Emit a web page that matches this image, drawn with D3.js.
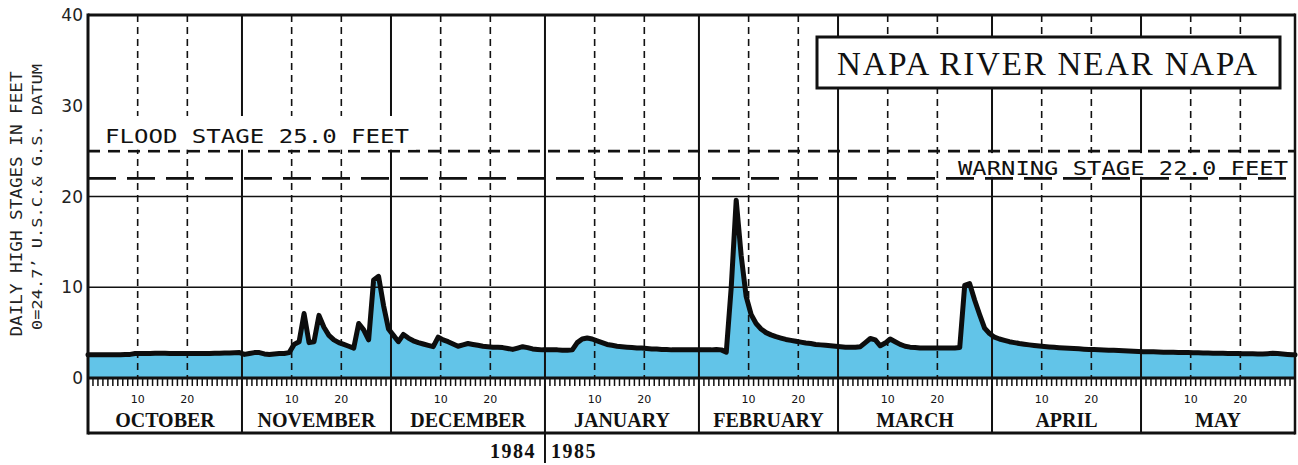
<!DOCTYPE html>
<html>
<head>
<meta charset="utf-8">
<script src="https://cdn.jsdelivr.net/npm/d3@7"></script>
<style>
  body { margin: 0; background: #fff; }
  svg { display: block; }
</style>
</head>
<body>
<svg id="chart" width="1298" height="465"></svg>
<script>
// Water year months shown on the chart
const monthNames = ["OCTOBER", "NOVEMBER", "DECEMBER", "JANUARY", "FEBRUARY", "MARCH", "APRIL", "MAY"];
const monthDays = [31, 30, 31, 31, 28, 31, 30, 31];

// Daily high stage (feet), one array per month
const stageOct = [2.55,2.55,2.55,2.55,2.55,2.55,2.55,2.6,2.6,2.7,2.7,2.7,2.7,2.72,2.72,2.72,2.7,2.7,2.7,2.7,2.7,2.7,2.7,2.7,2.7,2.72,2.72,2.75,2.75,2.78,2.8];
const stageNov = [2.6,2.7,2.8,2.8,2.65,2.6,2.65,2.7,2.7,2.8,3.7,4.0,7.1,3.9,4.0,6.9,5.6,4.7,4.2,3.9,3.7,3.5,3.3,6.0,5.3,4.2,10.8,11.2,8.0,5.4];
const stageDec = [4.7,4.0,4.8,4.4,4.1,3.9,3.75,3.6,3.45,4.5,4.2,4.0,3.75,3.5,3.65,3.8,3.7,3.6,3.5,3.45,3.4,3.38,3.35,3.25,3.15,3.3,3.45,3.35,3.2,3.15,3.1];
const stageJan = [3.1,3.1,3.1,3.05,3.05,3.1,3.9,4.3,4.4,4.3,4.1,3.9,3.7,3.6,3.5,3.45,3.4,3.35,3.3,3.3,3.25,3.2,3.2,3.15,3.15,3.1,3.1,3.1,3.1,3.1,3.1];
const stageFeb = [3.1,3.1,3.1,3.15,3.1,2.85,10.0,19.6,13.5,9.0,7.0,6.0,5.4,5.0,4.75,4.55,4.4,4.25,4.15,4.05,3.95,3.85,3.8,3.7,3.65,3.6,3.55,3.5];
const stageMar = [3.45,3.4,3.4,3.4,3.45,3.9,4.35,4.2,3.55,3.85,4.3,4.0,3.7,3.5,3.4,3.35,3.3,3.3,3.3,3.3,3.3,3.3,3.3,3.3,3.35,10.2,10.4,8.6,7.0,5.5,4.9];
const stageApr = [4.5,4.3,4.15,4.0,3.9,3.8,3.72,3.65,3.58,3.52,3.47,3.42,3.38,3.34,3.3,3.27,3.24,3.21,3.18,3.15,3.13,3.11,3.09,3.07,3.05,3.02,3.0,2.98,2.95,2.93];
const stageMay = [2.9,2.9,2.88,2.87,2.85,2.84,2.83,2.82,2.8,2.8,2.78,2.77,2.76,2.75,2.74,2.73,2.72,2.7,2.7,2.7,2.68,2.67,2.66,2.65,2.65,2.68,2.72,2.7,2.65,2.6,2.55];

const yTicks = [0, 10, 20, 30, 40];
const yGrid = [10, 20];
const dayMarks = [10, 20];
const floodStage = 25.0;
const warningStage = 22.0;
const floodLabel = "FLOOD STAGE 25.0 FEET";
const warningLabel = "WARNING STAGE 22.0 FEET";
const chartTitle = "NAPA RIVER NEAR NAPA";
const yTitle = "DAILY HIGH STAGES IN FEET";
const yDatum = "0=24.7\u2019 U.S.C.& G.S. DATUM";
const yearLabels = ["1984", "1985"];

const stages = [stageOct, stageNov, stageDec, stageJan, stageFeb, stageMar, stageApr, stageMay];

(function draw() {
  // layout
  const left = 88, right = 1295, plotTop = 15, base = 378, bandBottom = 433;
  const totalDays = d3.sum(monthDays);
  const monthStart = monthDays.map((d, i) => d3.sum(monthDays.slice(0, i)));

  const x = d3.scaleLinear().domain([0, totalDays]).range([left, right]);
  const y = d3.scaleLinear().domain([0, 40]).range([base, plotTop]);

  const svg = d3.select("#chart");
  const plotterFont = "DejaVu Sans Mono";

  // daily series, each value placed in the middle of its day
  const series = [];
  stages.forEach((arr, m) => arr.forEach((v, i) => series.push({ t: monthStart[m] + i + 0.5, v })));
  const pts = [{ t: 0, v: series[0].v }, ...series, { t: totalDays, v: series[series.length - 1].v }];

  // filled area under the stage line
  svg.append("path")
    .datum(pts)
    .attr("fill", "#62c4e8")
    .attr("d", d3.area().x(d => x(d.t)).y0(y(0)).y1(d => y(d.v)));

  const grid = svg.append("g").attr("stroke", "#111");

  // horizontal grid at 10 and 20 ft
  grid.selectAll("line.h").data(yGrid).join("line")
    .attr("x1", left).attr("x2", right)
    .attr("y1", d => y(d)).attr("y2", d => y(d))
    .attr("stroke-width", 1.6);

  // dashed verticals on the 10th and 20th of every month
  const dashDays = monthStart.flatMap(s => dayMarks.map(d => s + d));
  grid.append("g").selectAll("line").data(dashDays).join("line")
    .attr("x1", d => x(d)).attr("x2", d => x(d))
    .attr("y1", plotTop).attr("y2", base)
    .attr("stroke-width", 1.6)
    .attr("stroke-dasharray", "7,5");

  // solid month dividers run through the label band
  grid.append("g").selectAll("line").data(monthStart.slice(1)).join("line")
    .attr("x1", d => x(d)).attr("x2", d => x(d))
    .attr("y1", plotTop).attr("y2", bandBottom)
    .attr("stroke-width", 2);

  // flood and warning stage lines
  svg.append("line")
    .attr("x1", left).attr("x2", right)
    .attr("y1", y(floodStage)).attr("y2", y(floodStage))
    .attr("stroke", "#111").attr("stroke-width", 2.6)
    .attr("stroke-dasharray", "12,8");
  svg.append("line")
    .attr("x1", left).attr("x2", right)
    .attr("y1", y(warningStage)).attr("y2", y(warningStage))
    .attr("stroke", "#111").attr("stroke-width", 2.6)
    .attr("stroke-dasharray", "28,11");

  // stage label panels
  svg.append("rect").attr("x", 100).attr("y", 116).attr("width", 316).attr("height", y(floodStage) - 117.5)
    .attr("fill", "#fff");
  svg.append("text")
    .attr("x", 105).attr("y", 142.5)
    .attr("font-family", plotterFont).attr("font-size", 19)
    .attr("textLength", 304).attr("lengthAdjust", "spacingAndGlyphs")
    .attr("fill", "#111")
    .text(floodLabel);

  svg.append("rect").attr("x", 950).attr("y", y(floodStage) + 2).attr("width", 343)
    .attr("height", y(warningStage) - y(floodStage) - 3.5)
    .attr("fill", "#fff");
  svg.append("text")
    .attr("x", 958).attr("y", 175)
    .attr("font-family", plotterFont).attr("font-size", 19)
    .attr("textLength", 330).attr("lengthAdjust", "spacingAndGlyphs")
    .attr("fill", "#111")
    .text(warningLabel);

  // stage line
  svg.append("path")
    .datum(pts)
    .attr("fill", "none")
    .attr("stroke", "#0d0d0d")
    .attr("stroke-width", 5)
    .attr("stroke-linejoin", "round")
    .attr("stroke-linecap", "round")
    .attr("d", d3.line().x(d => x(d.t)).y(d => y(d.v)));

  // frame
  const frame = svg.append("g").attr("stroke", "#111").attr("fill", "none");
  frame.append("line").attr("x1", left).attr("x2", right).attr("y1", plotTop).attr("y2", plotTop).attr("stroke-width", 3);
  frame.append("line").attr("x1", left).attr("x2", right).attr("y1", base).attr("y2", base).attr("stroke-width", 3);
  frame.append("line").attr("x1", left).attr("x2", right).attr("y1", bandBottom).attr("y2", bandBottom).attr("stroke-width", 3);
  frame.append("line").attr("x1", left).attr("x2", left).attr("y1", plotTop - 1.5).attr("y2", bandBottom + 1.5).attr("stroke-width", 3);
  frame.append("line").attr("x1", right).attr("x2", right).attr("y1", plotTop - 1.5).attr("y2", bandBottom + 1.5).attr("stroke-width", 2.5);

  // daily ticks below the zero line
  const tickDays = monthStart.flatMap((s, m) => d3.range(1, monthDays[m]).map(d => s + d));
  svg.append("g").attr("stroke", "#111").attr("stroke-width", 1.5)
    .selectAll("line").data(tickDays).join("line")
    .attr("x1", d => x(d)).attr("x2", d => x(d))
    .attr("y1", base).attr("y2", base + 8);

  // day numbers 10 and 20
  svg.append("g")
    .selectAll("text").data(monthStart.flatMap(s => dayMarks.map(d => ({ t: s + d, d })))).join("text")
    .attr("x", d => x(d.t)).attr("y", 403)
    .attr("text-anchor", "middle")
    .attr("font-family", "DejaVu Sans").attr("font-size", 11)
    .attr("fill", "#111")
    .text(d => d.d);

  // month names
  svg.append("g")
    .selectAll("text").data(monthNames).join("text")
    .attr("x", (d, i) => x(monthStart[i] + monthDays[i] / 2)).attr("y", 427)
    .attr("text-anchor", "middle")
    .attr("font-family", "Liberation Serif").attr("font-weight", "bold").attr("font-size", 20)
    .attr("fill", "#111")
    .text(d => d);

  // year break under the January divider
  const yearX = x(monthStart[3]);
  svg.append("line").attr("x1", yearX).attr("x2", yearX).attr("y1", bandBottom).attr("y2", 463)
    .attr("stroke", "#111").attr("stroke-width", 2);
  svg.append("text").attr("x", yearX - 9).attr("y", 458).attr("text-anchor", "end")
    .attr("font-family", "Liberation Serif").attr("font-weight", "bold").attr("font-size", 20)
    .attr("letter-spacing", 1.5).attr("fill", "#111").text(yearLabels[0]);
  svg.append("text").attr("x", yearX + 6).attr("y", 458).attr("text-anchor", "start")
    .attr("font-family", "Liberation Serif").attr("font-weight", "bold").attr("font-size", 20)
    .attr("letter-spacing", 1.5).attr("fill", "#111").text(yearLabels[1]);

  // y axis values
  svg.append("g")
    .selectAll("text").data(yTicks).join("text")
    .attr("x", 83).attr("y", d => y(d))
    .attr("dy", "0.36em")
    .attr("text-anchor", "end")
    .attr("font-family", "DejaVu Sans").attr("font-size", 17)
    .attr("fill", "#222")
    .text(d => d);

  // y axis titles
  svg.append("text")
    .attr("transform", "translate(22,204) rotate(-90)")
    .attr("text-anchor", "middle")
    .attr("font-family", plotterFont).attr("font-size", 16)
    .attr("textLength", 265).attr("lengthAdjust", "spacingAndGlyphs")
    .attr("fill", "#222")
    .text(yTitle);
  svg.append("text")
    .attr("transform", "translate(42,197) rotate(-90)")
    .attr("text-anchor", "middle")
    .attr("font-family", plotterFont).attr("font-size", 14)
    .attr("textLength", 266).attr("lengthAdjust", "spacingAndGlyphs")
    .attr("fill", "#222")
    .text(yDatum);

  // title box
  svg.append("rect")
    .attr("x", 817).attr("y", 37).attr("width", 463).attr("height", 51)
    .attr("fill", "#fff").attr("stroke", "#111").attr("stroke-width", 3);
  svg.append("text")
    .attr("x", 837).attr("y", 75)
    .attr("font-family", "Liberation Serif").attr("font-size", 33)
    .attr("textLength", 420).attr("lengthAdjust", "spacing")
    .attr("fill", "#111")
    .text(chartTitle);
})();
</script>
</body>
</html>
